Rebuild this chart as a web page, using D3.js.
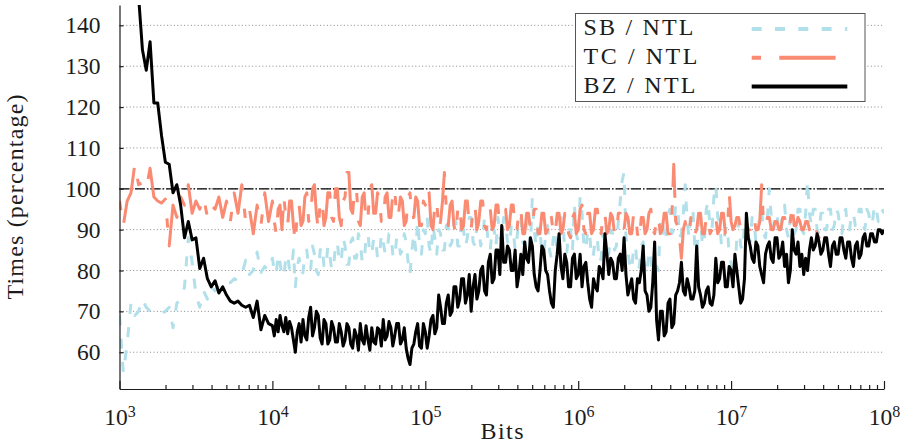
<!DOCTYPE html>
<html>
<head>
<meta charset="utf-8">
<title>SB / TC / BZ vs NTL</title>
<style>
    body { margin: 0; background: #fff; }
    svg text { font-family: "Liberation Serif", "DejaVu Serif", serif; fill: #1c1c1c; }
    .axis path, .axis line { stroke: #1c1c1c; stroke-width: 1.2; }
    .axis .tick text { font-size: 23.5px; }
</style>
</head>
<body>
<div id="chart"></div>
<script src="https://cdn.jsdelivr.net/npm/d3@7"></script>
<script>
    // x positions, log10(bits)
    var bitsLog10 = [
        3, 3.025, 3.05, 3.075, 3.1, 3.125, 3.15, 3.175, 3.2, 3.225, 3.25, 3.275, 3.3, 3.325, 3.35, 3.375, 3.4, 3.425, 3.45, 3.475,
        3.5, 3.525, 3.55, 3.575, 3.6, 3.625, 3.65, 3.675, 3.7, 3.725, 3.75, 3.775, 3.8, 3.825, 3.85, 3.875, 3.9, 3.925, 3.95, 3.975,
        4, 4.0125, 4.025, 4.0375, 4.05, 4.0625, 4.075, 4.0875, 4.1, 4.1125, 4.125, 4.1375, 4.15, 4.1625, 4.175, 4.1875, 4.2, 4.2125, 4.225, 4.2375,
        4.25, 4.2625, 4.275, 4.2875, 4.3, 4.3125, 4.325, 4.3375, 4.35, 4.3625, 4.375, 4.3875, 4.4, 4.4125, 4.425, 4.4375, 4.45, 4.4625, 4.475, 4.4875,
        4.5, 4.5125, 4.525, 4.5375, 4.55, 4.5625, 4.575, 4.5875, 4.6, 4.6125, 4.625, 4.6375, 4.65, 4.6625, 4.675, 4.6875, 4.7, 4.7125, 4.725, 4.7375,
        4.75, 4.7625, 4.775, 4.7875, 4.8, 4.8125, 4.825, 4.8375, 4.85, 4.8625, 4.875, 4.8875, 4.9, 4.9125, 4.925, 4.9375, 4.95, 4.9625, 4.975, 4.9875,
        5, 5.0125, 5.025, 5.0375, 5.05, 5.0625, 5.075, 5.0875, 5.1, 5.1125, 5.125, 5.1375, 5.15, 5.1625, 5.175, 5.1875, 5.2, 5.2125, 5.225, 5.2375,
        5.25, 5.2625, 5.275, 5.2875, 5.3, 5.3125, 5.325, 5.3375, 5.35, 5.3625, 5.375, 5.3875, 5.4, 5.4125, 5.425, 5.4375, 5.45, 5.4625, 5.475, 5.4875,
        5.5, 5.5125, 5.525, 5.5375, 5.55, 5.5625, 5.575, 5.5875, 5.6, 5.6125, 5.625, 5.6375, 5.65, 5.6625, 5.675, 5.6875, 5.7, 5.7125, 5.725, 5.7375,
        5.75, 5.7625, 5.775, 5.7875, 5.8, 5.8125, 5.825, 5.8375, 5.85, 5.8625, 5.875, 5.8875, 5.9, 5.9125, 5.925, 5.9375, 5.95, 5.9625, 5.975, 5.9875,
        6, 6.0125, 6.025, 6.0375, 6.05, 6.0625, 6.075, 6.0875, 6.1, 6.1125, 6.125, 6.1375, 6.15, 6.1625, 6.175, 6.1875, 6.2, 6.2125, 6.225, 6.2375,
        6.25, 6.2625, 6.275, 6.2875, 6.3, 6.3125, 6.325, 6.3375, 6.35, 6.3625, 6.375, 6.3875, 6.4, 6.4125, 6.425, 6.4375, 6.45, 6.4625, 6.475, 6.4875,
        6.5, 6.5125, 6.525, 6.5375, 6.55, 6.5625, 6.575, 6.5875, 6.6, 6.6125, 6.625, 6.6375, 6.65, 6.6625, 6.675, 6.6875, 6.7, 6.7125, 6.725, 6.7375,
        6.75, 6.7625, 6.775, 6.7875, 6.8, 6.8125, 6.825, 6.8375, 6.85, 6.8625, 6.875, 6.8875, 6.9, 6.9125, 6.925, 6.9375, 6.95, 6.9625, 6.975, 6.9875,
        7, 7.0125, 7.025, 7.0375, 7.05, 7.0625, 7.075, 7.0875, 7.1, 7.1125, 7.125, 7.1375, 7.15, 7.1625, 7.175, 7.1875, 7.2, 7.2125, 7.225, 7.2375,
        7.25, 7.2625, 7.275, 7.2875, 7.3, 7.3125, 7.325, 7.3375, 7.35, 7.3625, 7.375, 7.3875, 7.4, 7.4125, 7.425, 7.4375, 7.45, 7.4625, 7.475, 7.4875,
        7.5, 7.5125, 7.525, 7.5375, 7.55, 7.5625, 7.575, 7.5875, 7.6, 7.6125, 7.625, 7.6375, 7.65, 7.6625, 7.675, 7.6875, 7.7, 7.7125, 7.725, 7.7375,
        7.75, 7.7625, 7.775, 7.7875, 7.8, 7.8125, 7.825, 7.8375, 7.85, 7.8625, 7.875, 7.8875, 7.9, 7.9125, 7.925, 7.9375, 7.95, 7.9625, 7.975, 7.9875,
        8
    ];

    // SB / NTL (percentage)
    var sbNtl = [
        69, 55, 62, 72, 69, 70, 73, 71, 70, 70, 70, 69.5, 70, 71, 66, 72, 73, 76, 88, 82,
        74, 71, 75, 73, 76, 75, 76.5, 76, 77, 77, 78, 77.5, 79, 82.5, 79, 80, 84.5, 79.5, 81, 80,
        83, 80, 79, 84, 82, 78.5, 78.5, 83, 84, 80, 80, 85, 76, 81, 83, 79, 79.5, 84, 85, 80.5,
        80, 86, 84, 80, 79, 85, 86, 81, 80.5, 86, 84, 80, 81, 86, 87, 82, 82, 88, 86, 81.5,
        81.5, 87, 88, 83, 83, 89, 87, 82, 82, 88, 89, 84, 84, 88, 88, 83, 83, 89, 87, 84,
        84.5, 89, 89, 84, 83, 88, 88, 84, 85, 89, 87, 82, 79, 85, 89, 85, 92, 86, 84, 90,
        89, 93, 86, 84, 91, 88, 84, 90, 89, 85, 85, 91, 91, 86, 87, 92, 92, 86, 86, 93,
        90, 86, 88, 93, 93, 87, 86, 91, 91, 86, 88, 93, 92, 86, 85, 91, 90, 86, 93, 88,
        87, 93, 92, 87, 86, 91, 90, 85, 88, 93, 93, 87, 86, 92, 91, 86, 98, 90, 86, 91,
        90, 84, 84, 89, 91, 85, 83, 88, 90, 84, 86, 93, 92, 85, 84, 90, 90, 85, 96, 89,
        87, 98, 94, 86, 85, 90, 89, 83, 84, 88, 88, 82, 83, 89, 87, 84, 84, 90, 89, 85,
        86, 92, 97, 102, 104, 88, 85, 81, 80, 86, 86, 80, 81, 86, 87, 79, 79, 85, 83, 78,
        76, 81, 80, 92, 93, 87, 88, 94, 95, 89, 90, 96, 96, 88, 89, 94, 101, 92, 88, 95,
        95, 86, 84, 92, 93, 86, 87, 95, 97, 90, 90, 98, 101, 93, 92, 86, 86, 90, 91, 84,
        82, 78, 80, 88, 92, 86, 85, 91, 94, 88, 87, 93, 92, 87, 89, 94, 95, 89, 88, 93,
        100, 93, 90, 94, 94, 89, 89, 95, 96, 90, 88, 93, 93, 89, 90, 95, 95, 90, 89, 94,
        102, 94, 91, 95, 95, 90, 89, 94, 94, 90, 90, 95, 95, 90, 91, 95, 94, 90, 89, 94,
        95, 90, 90, 94, 94, 91, 91, 95, 95, 91, 90, 95, 94, 91, 92, 96, 95, 92, 92, 95,
        94
    ];

    // TC / NTL (percentage), no runs past ~4e7 bits
    var tcNtl = [
        97, 91, 97, 99, 106, 101, 101.5, 100, 105, 98, 97, 96.5, 97.5, 86, 96, 93, 98, 96, 101, 94,
        97, 95, 98, 93, 96, 95, 98, 93, 97, 92, 99, 94, 101, 92, 95, 89, 96, 91, 99, 92,
        97, 92, 89, 95, 96, 90, 98, 93, 91, 97, 97, 91, 87, 94, 96, 91, 92, 98, 99, 92,
        93, 100, 101, 94, 90, 97, 97, 91, 93, 99, 99, 93, 92, 100, 100, 93, 91, 97, 98, 104,
        104, 95, 94, 100, 100, 92, 91, 98, 99, 92, 93, 100, 101, 94, 94, 99, 98, 92, 92, 98,
        99, 93, 93, 99, 100, 93, 94, 98, 97, 91, 92, 98, 99, 93, 93, 98, 97, 91, 91, 97,
        96, 100, 99, 91, 90, 96, 97, 90, 92, 97, 104, 95, 91, 96, 97, 91, 89, 95, 96, 90,
        91, 97, 97, 91, 90, 95, 96, 90, 92, 97, 97, 91, 90, 95, 95, 90, 91, 96, 96, 90,
        89, 95, 95, 90, 91, 96, 96, 90, 90, 95, 95, 89, 89, 94, 94, 90, 91, 95, 95, 89,
        89, 94, 94, 89, 90, 94, 93, 89, 89, 94, 94, 89, 90, 94, 93, 89, 88, 93, 94, 89,
        90, 95, 96, 90, 89, 94, 94, 89, 90, 95, 95, 90, 89, 94, 94, 89, 90, 94, 93, 89,
        89, 94, 94, 90, 90, 94, 93, 89, 89, 94, 94, 89, 87.5, 93, 93, 89, 90, 94, 95, 90,
        89, 93, 93, 89, 90, 94, 94, 89, 89, 93, 106, 92, 91, 88, 83, 90, 92, 89, 89, 93,
        93, 89, 90, 94, 94, 89, 89, 93, 93, 89, 90, 93, 93, 89, 90, 94, 94, 89, 89, 99,
        92, 90, 91, 93, 93, 90, 90, 92, 92, 90, 90, 92, 93, 90, 90, 92, 101, 91, 91, 93,
        93, 90, 90, 92, 92, 90, 90, 93, 93, 90, 90, 92, 96, 91, 91, 93, 92, 90, 90, 92,
        92, 90, 89, 91, 91, 89, 88, 90, null, null, null, null, null, null, null, null, null, null, null, null,
        null, null, null, null, null, null, null, null, null, null, null, null, null, null, null, null, null, null, null, null,
        null
    ];

    // BZ / NTL (percentage)
    var bzNtl = [
        178, 172, 165, 158, 152, 147, 134, 129, 136, 121, 121, 113, 106.5, 106, 99, 101, 96, 88, 92, 87.5,
        88, 80.5, 83, 78, 76, 77.5, 74.5, 76, 74, 72.5, 72, 72.5, 71.5, 71, 71.5, 68.5, 72.5, 65.5, 69, 67,
        66.5, 64, 68, 65, 69, 66.5, 65, 68.5, 64.5, 67.5, 66, 63, 60, 65, 67, 62.5, 68, 64, 63, 68.5,
        71, 64, 66, 70, 69, 63.5, 62, 68, 67, 62, 63, 67.5, 66, 62.5, 62.5, 67, 65, 61.5, 63, 67,
        66, 62, 61, 65.5, 64, 60.5, 67, 63, 62, 66.5, 63, 60.5, 66, 62.5, 62, 66, 65.5, 61.5, 68, 63,
        64, 67.5, 66, 61.5, 64, 67, 67, 62, 63, 66, 61, 58.5, 57, 61, 62, 65, 67, 61.5, 61, 67,
        65, 61, 64, 68, 69, 64.5, 66, 74, 71, 67, 67, 72, 74, 69, 70, 76, 76, 71, 73, 78,
        78, 72, 74, 79, 70, 76, 79, 73, 75, 80, 81, 75, 74, 82, 84, 77, 78, 85, 85, 79,
        91, 82, 82, 86, 85, 80, 80, 85, 76, 79, 84, 79, 87, 83, 82, 88, 86, 79, 76, 75,
        80, 86, 85, 80, 79, 75, 72, 71, 80, 84, 89, 81, 78, 84, 82, 76, 76, 83, 84, 78,
        79, 84, 76, 81, 82, 77, 73, 71, 78, 76, 75, 81, 80, 78, 89, 84, 79, 83, 82, 78,
        78, 83, 84, 80, 88, 79, 74, 76, 78, 73, 72, 78, 77, 80, 86, 75, 74, 70, 71, 77,
        87, 68, 63, 70, 70, 64, 65, 72, 73, 66, 67, 74, 75, 77, 82, 75, 74, 78, 76, 73,
        73, 75, 86, 76, 74, 71, 72, 75, 76, 72, 71.5, 74, 83, 77, 78, 82, 82, 76, 76, 81,
        80, 76, 84, 80, 76, 72, 73, 78, 94, 88, 86, 83, 82, 87, 86, 81, 79, 77, 84, 86,
        87, 83, 82, 88, 88, 83, 84, 87, 81, 84, 77, 80, 90, 85, 84, 87, 81, 84, 79, 83,
        80, 85, 88, 85, 86, 89, 87, 84, 85, 88, 88, 84, 81, 86, 87, 84, 84, 88, 88, 85,
        83, 87, 87, 83, 81, 86, 87, 83, 84, 88, 89, 86, 86, 89, 89, 87, 87, 90, 90, 89,
        90
    ];

    var seriesNames = ["SB / NTL", "TC / NTL", "BZ / NTL"];
    var seriesColors = ["#b2e0ea", "#fa8b72", "#000000"];
    var seriesDash = ["10,13.3", "9.3,18.3,56.3,18.3", null];
    var yTicks = [60, 70, 80, 90, 100, 110, 120, 130, 140];
    var xTicks = [1e3, 1e4, 1e5, 1e6, 1e7, 1e8];
    var refLevel = 100;

    var svg = d3.select('#chart')
        .append('svg')
        .attr('width', 902)
        .attr('height', 445);

    var x = d3.scaleLog().domain([1e3, 1e8]).range([119.5, 884]);
    var y = d3.scaleLinear().domain([51, 145]).range([389, 4.9]);

    svg.append('defs').append('clipPath').attr('id', 'plot-clip')
        .append('rect')
        .attr('x', 119.5).attr('y', 4.9)
        .attr('width', 884 - 119.5).attr('height', 389 - 4.9);

    // horizontal dotted grid
    svg.append('g').selectAll('line')
        .data(yTicks)
        .enter().append('line')
        .attr('x1', x(1e3)).attr('x2', x(1e8))
        .attr('y1', function (d) { return y(d); })
        .attr('y2', function (d) { return y(d); })
        .attr('stroke', '#8a8a8a')
        .attr('stroke-width', 1)
        .attr('stroke-dasharray', '1,2.4');

    // 100% reference line
    svg.append('line')
        .attr('x1', x(1e3)).attr('x2', x(1e8))
        .attr('y1', y(refLevel)).attr('y2', y(refLevel))
        .attr('stroke', '#000')
        .attr('stroke-width', 1.2)
        .attr('stroke-dasharray', '10,2,1.5,2');

    var line = d3.line()
        .defined(function (d) { return d[1] != null; })
        .x(function (d) { return x(Math.pow(10, d[0])); })
        .y(function (d) { return y(d[1]); });

    var seriesValues = [sbNtl, tcNtl, bzNtl];
    var plot = svg.append('g').attr('clip-path', 'url(#plot-clip)');
    seriesValues.forEach(function (vals, k) {
        var pts = bitsLog10.map(function (e, i) { return [e, vals[i]]; });
        plot.append('path')
            .datum(pts)
            .attr('d', line)
            .attr('fill', 'none')
            .attr('stroke', seriesColors[k])
            .attr('stroke-width', 3)
            .attr('stroke-linejoin', 'round')
            .attr('stroke-dasharray', seriesDash[k]);
    });

    // axes
    var minorTicks = x.ticks().filter(function (d) { return xTicks.indexOf(d) < 0; });

    svg.append('g').attr('class', 'axis')
        .attr('transform', 'translate(0,389)')
        .call(d3.axisBottom(x).tickValues(minorTicks).tickSize(-4).tickSizeOuter(0).tickFormat(''))
        .select('.domain').remove();

    var gx = svg.append('g').attr('class', 'axis')
        .attr('transform', 'translate(0,389)')
        .call(d3.axisBottom(x).tickValues(xTicks).tickSize(-8).tickSizeOuter(0).tickFormat(''));
    gx.attr('font-family', null).attr('font-size', null);
    gx.selectAll('.tick text')
        .attr('y', 36).attr('dy', null)
        .each(function (d) {
            var t = d3.select(this);
            t.append('tspan').text('10');
            t.append('tspan').attr('dy', -8).style('font-size', '16px')
                .text(Math.round(Math.log10(d)));
        });

    var gy = svg.append('g').attr('class', 'axis')
        .attr('transform', 'translate(119.5,0)')
        .call(d3.axisLeft(y).tickValues(yTicks).tickSize(-4).tickSizeOuter(0).tickPadding(19));
    gy.attr('font-family', null).attr('font-size', null);

    // axis titles
    svg.append('text')
        .attr('transform', 'translate(23,197) rotate(-90)')
        .attr('text-anchor', 'middle')
        .attr('font-size', 24)
        .attr('textLength', 205)
        .attr('lengthAdjust', 'spacing')
        .text('Times (percentage)');

    svg.append('text')
        .attr('x', 502).attr('y', 439)
        .attr('text-anchor', 'middle')
        .attr('font-size', 24)
        .attr('textLength', 43)
        .attr('lengthAdjust', 'spacing')
        .text('Bits');

    // legend
    var legend = svg.append('g');
    legend.append('rect')
        .attr('x', 575.5).attr('y', 13.5)
        .attr('width', 289.5).attr('height', 88)
        .attr('fill', '#fff')
        .attr('stroke', '#555')
        .attr('stroke-width', 1);

    var legendW = [110, 114, 112];
    seriesNames.forEach(function (name, k) {
        var base = 35 + k * 28.8;
        legend.append('text')
            .attr('x', 583.5).attr('y', base)
            .attr('font-size', 24)
            .attr('textLength', legendW[k])
            .attr('lengthAdjust', 'spacing')
            .text(name);
        legend.append('line')
            .attr('x1', 751.7).attr('x2', 847.3)
            .attr('y1', base - 6).attr('y2', base - 6)
            .attr('stroke', seriesColors[k])
            .attr('stroke-width', 4)
            .attr('stroke-dasharray', seriesDash[k]);
    });
</script>
</body>
</html>
